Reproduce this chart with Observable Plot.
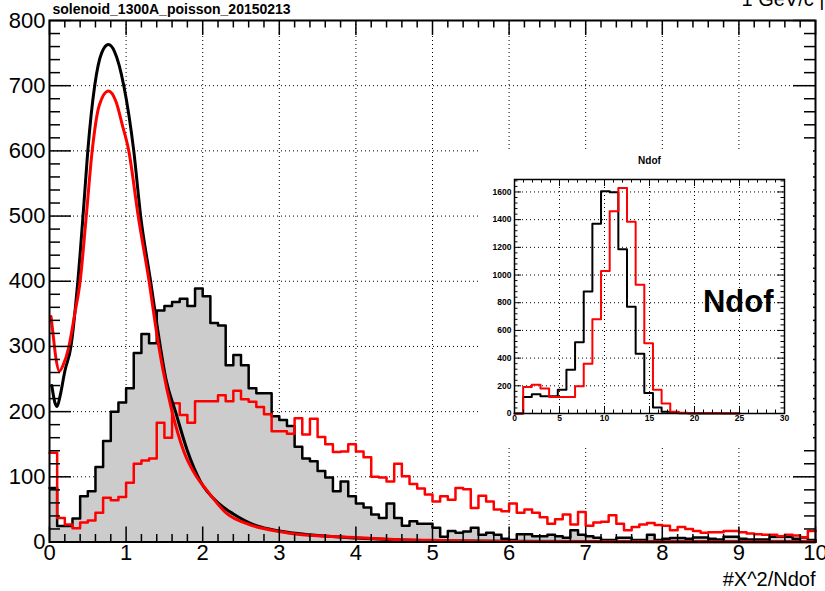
<!DOCTYPE html>
<html><head><meta charset="utf-8">
<script src="https://cdn.jsdelivr.net/npm/d3@7"></script>
<script src="https://cdn.jsdelivr.net/npm/@observablehq/plot@0.6"></script>
<style>
body{margin:0;background:#fff;}
#wrap{position:relative;width:825px;height:591px;overflow:hidden;}
#inset{position:absolute;left:480px;top:150px;}
</style></head><body><div id="wrap"><div id="main"></div><div id="inset"></div></div>
<script>
// ---- data ----
const title = "solenoid_1300A_poisson_20150213";
const cornerText = "1 GeV/c |";
const xTitle = "#X^2/Ndof";
const insetTitle = "Ndof";
const insetBig = "Ndof";

// main histograms: 100 bins of width 0.1 over [0,10]
const blackHist = [83,24.5,24.5,36,70,78,115,155,200,214,236,290,319,305,355,362,368,373,362,389,
  377,336,332,271,287,271,236,228,228,193,187,178,146,128,124,109,99,78,93,70,
  59,53,42,37,59,37,25,32,28,28,22,8,17,14,16,22,11,14,11,5,
  3,11.7,11.7,9,9,11,9,6.6,18,11,9,6.6,3,3,6.6,6.6,3,3,11,3,
  5,6,6,5,7,7,5,4,8,8,5,4,4,4,8,8,8,5,7,3];
const redHist = [137,37,27,21,30,33,45,68,64,69,91,120,125,128,183,160,213,195,183,216,
  216,216,225,216,232,219,215,207,196,170,170,166,190,165,189,161,150,138,139,150,
  139,130,100,99,93,120,101,89,82,73,62,70,65,83,81,52,71,62,50,47,
  59,45,50,45,38,28,35,42,27,46,25,30,31,41,28,18,23,27,29,26,
  25,18,23,20,17,14,15,15,17,17,15,13,12,11,11,9,11,10,7,17];

// smooth (fit-like) curves
const blackFitX = [0.03,0.07,0.10,0.14,0.20,0.28,0.37,0.45,0.50,0.59,0.68,0.77,0.85,0.97,1.10,1.19,1.32,1.42,1.52,1.645,1.80,1.97,2.2,2.4,2.7,3.0,3.4,4.0,4.5,5.0,6.0,8.0,10.0];
const blackFitY = [240,214,208,225,262,300,400,520,600,700,750,763,752,700,600,500,400,320,250,200,140,93,60,43,25,17,11,6,3.5,2,1,0.5,0.3];
const redFitX = [0.02,0.05,0.08,0.13,0.18,0.25,0.33,0.40,0.48,0.557,0.65,0.77,0.87,0.95,1.035,1.158,1.30,1.40,1.48,1.60,1.75,1.92,2.05,2.32,2.6,3.0,3.3,4.0,4.5,5.0,5.7,7.0,10.0];
const redFitY = [346,315,285,262,272,298,350,400,500,600,670,692,675,640,600,500,400,320,265,200,140,100,80,43,27,16,11,7,4,2.5,1,0.5,0.3];

// inset histograms: 26 bins over [0,25]
const insetBlack = [0,120,139,125,125,172,316,515,881,1370,1605,1598,1186,771,431,148,43,12,3,1,0,0,0,0,0,0];
const insetRed   = [0,192,208,180,120,120,120,196,359,680,1030,1461,1629,1384,929,508,172,72,12,5,4,4,3,3,2,2];

// tick values
const xMajor = [0,1,2,3,4,5,6,7,8,9,10];
const yMajor = [0,100,200,300,400,500,600,700,800];
const insetXMajor = [0,5,10,15,20,25,30];
const insetYMajor = [0,200,400,600,800,1000,1200,1400,1600];

// ---- helpers ----
function steps(arr, lo, hi) {
  const w = (hi - lo) / arr.length;
  const p = arr.map((v, i) => ({x: lo + i * w, y: v}));
  p.push({x: hi, y: arr[arr.length - 1]});
  return p;
}
const FONT = "'Liberation Sans', Arial, Helvetica, sans-serif";
const plain = d => String(d);

// ---- main plot ----
const W = 825, H = 591, mL = 49, mR = 10, mT = 20, mB = 49.5;
const fw = W - mL - mR, fh = H - mT - mB;
const xMinor = d3.range(0, 51).filter(i => i % 5).map(i => i / 5);
const yMinor = d3.range(0, 41).filter(i => i % 5).map(i => i * 20);
const dot = {stroke: "black", strokeOpacity: 1, strokeWidth: 1, strokeDasharray: "1,3"};
const blackPts = steps(blackHist, 0, 10), redPts = steps(redHist, 0, 10);
const bFit = blackFitX.map((x, i) => ({x, y: blackFitY[i]}));
const rFit = redFitX.map((x, i) => ({x, y: redFitY[i]}));

const main = Plot.plot({
  width: W, height: H, marginLeft: mL, marginRight: mR, marginTop: mT, marginBottom: mB,
  x: {domain: [0, 10]}, y: {domain: [0, 800]},
  style: {fontFamily: FONT, fontSize: "22px", background: "white", overflow: "visible"},
  marks: [
    Plot.gridX(xMajor.slice(1, -1), dot),
    Plot.gridY(yMajor.slice(1, -1), dot),
    Plot.areaY(blackPts, {x: "x", y: "y", curve: "step-after", fill: "#cccccc"}),
    Plot.line(blackPts, {x: "x", y: "y", curve: "step-after", stroke: "black", strokeWidth: 2.5}),
    Plot.line(redPts, {x: "x", y: "y", curve: "step-after", stroke: "#ff0000", strokeWidth: 2.5}),
    Plot.line(bFit, {x: "x", y: "y", curve: "monotone-x", stroke: "black", strokeWidth: 3}),
    Plot.line(rFit, {x: "x", y: "y", curve: "monotone-x", stroke: "#ff0000", strokeWidth: 3}),
    // inward ticks (ROOT style) on all four sides
    Plot.tickY(yMajor, {y: d => d, insetRight: fw - 22, stroke: "black", strokeWidth: 1.5}),
    Plot.tickY(yMinor, {y: d => d, insetRight: fw - 11, stroke: "black", strokeWidth: 1.5}),
    Plot.tickY(yMajor, {y: d => d, insetLeft: fw - 22, stroke: "black", strokeWidth: 1.5}),
    Plot.tickY(yMinor, {y: d => d, insetLeft: fw - 11, stroke: "black", strokeWidth: 1.5}),
    Plot.tickX(xMajor, {x: d => d, insetTop: fh - 15, stroke: "black", strokeWidth: 1.5}),
    Plot.tickX(xMinor, {x: d => d, insetTop: fh - 7.5, stroke: "black", strokeWidth: 1.5}),
    Plot.tickX(xMajor, {x: d => d, insetBottom: fh - 15, stroke: "black", strokeWidth: 1.5}),
    Plot.tickX(xMinor, {x: d => d, insetBottom: fh - 7.5, stroke: "black", strokeWidth: 1.5}),
    Plot.frame({stroke: "black", strokeWidth: 2}),
    Plot.axisY(yMajor, {tickSize: 0, tickPadding: 4, label: null, tickFormat: plain}),
    Plot.axisX(xMajor, {tickSize: 0, tickPadding: 2, label: null, tickFormat: plain}),
    Plot.text([xTitle], {frameAnchor: "bottom-right", textAnchor: "end", lineAnchor: "middle", dy: 38, fontSize: 20}),
    Plot.text([title], {frameAnchor: "top-left", textAnchor: "start", lineAnchor: "middle", dx: 3, dy: -11, fontSize: 14, fontWeight: "bold"}),
    Plot.text([cornerText], {frameAnchor: "top-right", textAnchor: "end", lineAnchor: "middle", dx: 9, dy: -21, fontSize: 20})
  ]
});
document.getElementById("main").appendChild(main);

// ---- inset ----
const iW = 333, iH = 295, iL = 34, iR = 29, iT = 29, iB = 32;
const ifw = iW - iL - iR, ifh = iH - iT - iB;
const iXMinor = d3.range(0, 31).filter(i => i % 5);
const iYMinor = d3.range(0, 43).filter(i => i % 5).map(i => i * 40);
const iTick = {stroke: "black", strokeWidth: 1};
const inset = Plot.plot({
  width: iW, height: iH, marginLeft: iL, marginRight: iR, marginTop: iT, marginBottom: iB,
  x: {domain: [0, 30]}, y: {domain: [0, 1690]},
  style: {fontFamily: FONT, fontSize: "8.5px", fontWeight: "bold", background: "white", overflow: "visible"},
  marks: [
    Plot.gridX(insetXMajor.slice(1, -1), dot),
    Plot.gridY(insetYMajor.slice(1), dot),
    Plot.line(steps(insetBlack, 0, 25), {x: "x", y: "y", curve: "step-after", stroke: "black", strokeWidth: 2}),
    Plot.line(steps(insetRed, 0, 25), {x: "x", y: "y", curve: "step-after", stroke: "#ff0000", strokeWidth: 2}),
    Plot.tickY(insetYMajor, {y: d => d, insetRight: ifw - 7, ...iTick}),
    Plot.tickY(iYMinor, {y: d => d, insetRight: ifw - 3.5, ...iTick}),
    Plot.tickY(insetYMajor, {y: d => d, insetLeft: ifw - 7, ...iTick}),
    Plot.tickY(iYMinor, {y: d => d, insetLeft: ifw - 3.5, ...iTick}),
    Plot.tickX(insetXMajor, {x: d => d, insetTop: ifh - 7, ...iTick}),
    Plot.tickX(iXMinor, {x: d => d, insetTop: ifh - 3.5, ...iTick}),
    Plot.tickX(insetXMajor, {x: d => d, insetBottom: ifh - 7, ...iTick}),
    Plot.tickX(iXMinor, {x: d => d, insetBottom: ifh - 3.5, ...iTick}),
    Plot.frame({stroke: "black", strokeWidth: 1.5}),
    Plot.axisY(insetYMajor, {tickSize: 0, tickPadding: 3, label: null, tickFormat: plain}),
    Plot.axisX(insetXMajor, {tickSize: 0, tickPadding: 1, label: null, tickFormat: plain}),
    Plot.text([insetTitle], {frameAnchor: "top", lineAnchor: "middle", dy: -19, fontSize: 10, fontWeight: "bold"}),
    Plot.text([insetBig], {frameAnchor: "right", textAnchor: "end", lineAnchor: "middle", dx: -11, dy: 6, fontSize: 31, fontWeight: "bold"})
  ]
});
document.getElementById("inset").appendChild(inset);
</script>
</body></html>
